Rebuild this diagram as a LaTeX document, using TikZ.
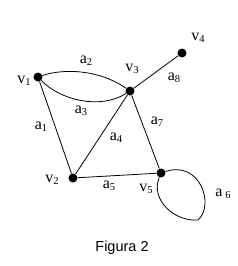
\documentclass[tikz,border=0pt]{standalone}
\usepackage{fontspec}
\setmainfont{Liberation Serif}
\newfontfamily\capfont{Liberation Sans}
\newcommand\lsub[1]{\raisebox{-0.3ex}{\fontsize{10.5}{10.5}\selectfont #1}}
\begin{document}
\begin{tikzpicture}[x=1pt,y=-1pt,
  vtx/.style={circle,fill=black,inner sep=0pt,minimum size=9pt},
  lbl/.style={inner sep=0pt,font=\fontsize{16}{16}\selectfont},
  edge/.style={line width=0.8pt}]
\useasboundingbox (0,0) rectangle (238,266);
\node[vtx] (v1) at (38,77) {};
\node[vtx] (v3) at (130,91) {};
\node[vtx] (v4) at (182,53) {};
\node[vtx] (v2) at (73,178) {};
\node[vtx] (v5) at (161,173) {};
\draw[edge] (v1) .. controls (65,68) and (100,70) .. (v3);
\draw[edge] (v1) .. controls (60,100) and (100,110) .. (v3);
\draw[edge] (v1) -- (v2);
\draw[edge] (v2) -- (v3);
\draw[edge] (v3) -- (v4);
\draw[edge] (v3) -- (v5);
\draw[edge] (v2) -- (v5);
\draw[edge] (v5) .. controls (200,160) and (215,205) .. (198,220)
  .. controls (175,222) and (150,200) .. (v5);
\node[lbl] (lv1) at (24,81) {v\lsub{1}};
\node[lbl] (lv3) at (132,69) {v\lsub{3}};
\node[lbl] (lv4) at (198,38) {v\lsub{4}};
\node[lbl] (lv2) at (52,180) {v\lsub{2}};
\node[lbl] (lv5) at (146,189) {v\lsub{5}};
\node[lbl] (la1) at (41,127) {a\lsub{1}};
\node[lbl] (la2) at (86,61) {a\lsub{2}};
\node[lbl] (la3) at (81,111) {a\lsub{3}};
\node[lbl] (la4) at (116,138) {a\lsub{4}};
\node[lbl] (la5) at (109,186) {a\lsub{5}};
\node[lbl] (la6) at (223,194) {a\,\lsub{6}};
\node[lbl] (la7) at (157,122) {a\lsub{7}};
\node[lbl] (la8) at (174,78) {a\lsub{8}};
\node[inner sep=0pt,font=\capfont\fontsize{14.5}{14.5}\selectfont] (cap) at (122,248) {Figura 2};
\end{tikzpicture}
\end{document}
